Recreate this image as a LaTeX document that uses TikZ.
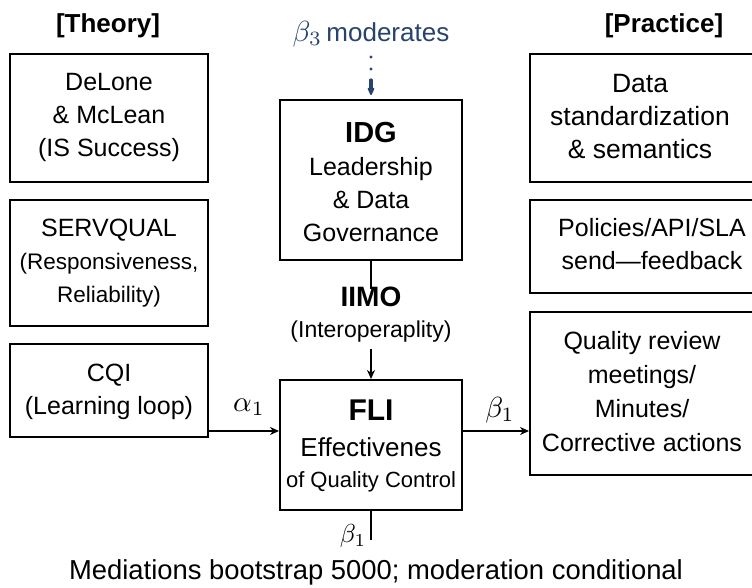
\documentclass[tikz,border=0pt]{standalone}
\usepackage{fontspec}
\setmainfont{Liberation Sans}
\usetikzlibrary{arrows.meta}
\definecolor{navy}{HTML}{27436E}
\newcommand{\mymath}[2]{\scalebox{#1}{\fontsize{10}{12}\selectfont$#2$}}
\begin{document}
\begin{tikzpicture}[x=1pt,y=-1pt,
  boxs/.style={draw=black, line width=2pt, inner sep=0pt},
  txt/.style={align=center, inner sep=0pt, font=\fontsize{25}{33}\selectfont},
  ttl/.style={inner sep=0pt, font=\fontsize{26}{30}\selectfont\bfseries},
  arr/.style={line width=1.6pt, -{Stealth[length=9pt,width=8pt]}},
  lbl/.style={inner sep=0pt, font=\fontsize{26}{30}\selectfont}]
\useasboundingbox (0,0) rectangle (752,588);
\fill[white] (0,0) rectangle (752,588);
\clip (0,0) rectangle (752,588);

% titles
\node[ttl] (theory) at (108,26) {[Theory]};
\node[ttl] (practice) at (664,26) {[Practice]};
\node[lbl, text=navy] (mod) at (371,34) {\mymath{2.9}{\beta_3}\,moderates};

% left boxes
\node[boxs, minimum width=198pt, minimum height=128pt] (del) at (109,118) {};
\node[txt] (delt) at (109,117) {DeLone\\ \& McLean\\ (IS Success)};
\node[boxs, minimum width=198pt, minimum height=126pt] (serv) at (109,263) {};
\node[txt, font=\fontsize{22.5}{33}\selectfont] (servt) at (109,263) {\fontsize{25}{33}\selectfont SERVQUAL\\ (Responsiveness,\\ Reliability)};
\node[boxs, minimum width=198pt, minimum height=93pt] (cqi) at (109,390.5) {};
\node[txt] (cqit) at (109,392) {CQI\\ (Learning loop)};

% centre boxes
\node[boxs, minimum width=182pt, minimum height=160pt] (idg) at (371,180) {};
\node[txt] (idgt) at (371,182) {{\fontsize{29}{33}\selectfont\bfseries IDG}\\ Leadership\\ \& Data\\ Governance};
\node[inner sep=0pt, font=\fontsize{28}{30}\selectfont\bfseries] (iimo) at (371,297) {IIMO};
\node[inner sep=0pt, font=\fontsize{23}{30}\selectfont] (inter) at (371,332) {(Interoperaplity)};
\node[boxs, minimum width=182pt, minimum height=130pt] (fli) at (371,445) {};
\node[inner sep=0pt, font=\fontsize{30}{33}\selectfont\bfseries] (flit) at (371,410) {FLI};
\node[inner sep=0pt, font=\fontsize{26}{33}\selectfont] (effe) at (371,447) {Effectivenes};
\node[inner sep=0pt, font=\fontsize{22}{33}\selectfont] (oqc) at (371,482) {of Quality Control};

% right boxes
\node[boxs, minimum width=260pt, minimum height=128pt] (r1) at (660,118) {};
\node[txt, font=\fontsize{26.5}{33}\selectfont] (r1t) at (640,117) {Data\\ standardization\\ \& semantics};
\node[boxs, minimum width=260pt, minimum height=93pt] (r2) at (660,246.5) {};
\node[txt] (r2t) at (652,244) {Policies/API/SLA\\ send—feedback};
\node[boxs, minimum width=260pt, minimum height=163pt] (r3) at (660,393.5) {};
\node[txt, font=\fontsize{25}{34}\selectfont] (r3t) at (642,391.5) {Quality review\\ meetings/\\ Minutes/\\ Corrective actions};

% connectors
\coordinate (ay) at (0,431);
\coordinate (modb) at (371,57);
\coordinate (bend) at (371,540);
\draw[navy, line width=3.2pt, line cap=round, dash pattern=on 0pt off 12pt on 0pt off 11pt on 30pt, -{Stealth[length=10pt,width=9pt,round]}, shorten >=4pt] (modb) -- (idg.north);
\draw[line width=1.6pt] (idg.south) -- ([yshift=-2pt]iimo.north);
\draw[arr, shorten <=6pt] (inter.south) -- (fli.north);
\draw[arr] (cqi.east |- ay) -- (fli.west |- ay);
\draw[arr] (fli.east |- ay) -- (r3.west |- ay);
\draw[line width=1.6pt] (fli.south) -- (bend);

% labels
\node[lbl] (alpha) at (249,407) {\mymath{2.9}{\alpha_1}};
\node[lbl] (beta) at (500,410) {\mymath{2.9}{\beta_1}};
\node[lbl] (betab) at (353,536) {\mymath{2.6}{\beta_1}};
\node[inner sep=0pt, font=\fontsize{27.4}{30}\selectfont] (foot) at (376,572) {Mediations bootstrap 5000; moderation conditional};
\end{tikzpicture}
\end{document}
